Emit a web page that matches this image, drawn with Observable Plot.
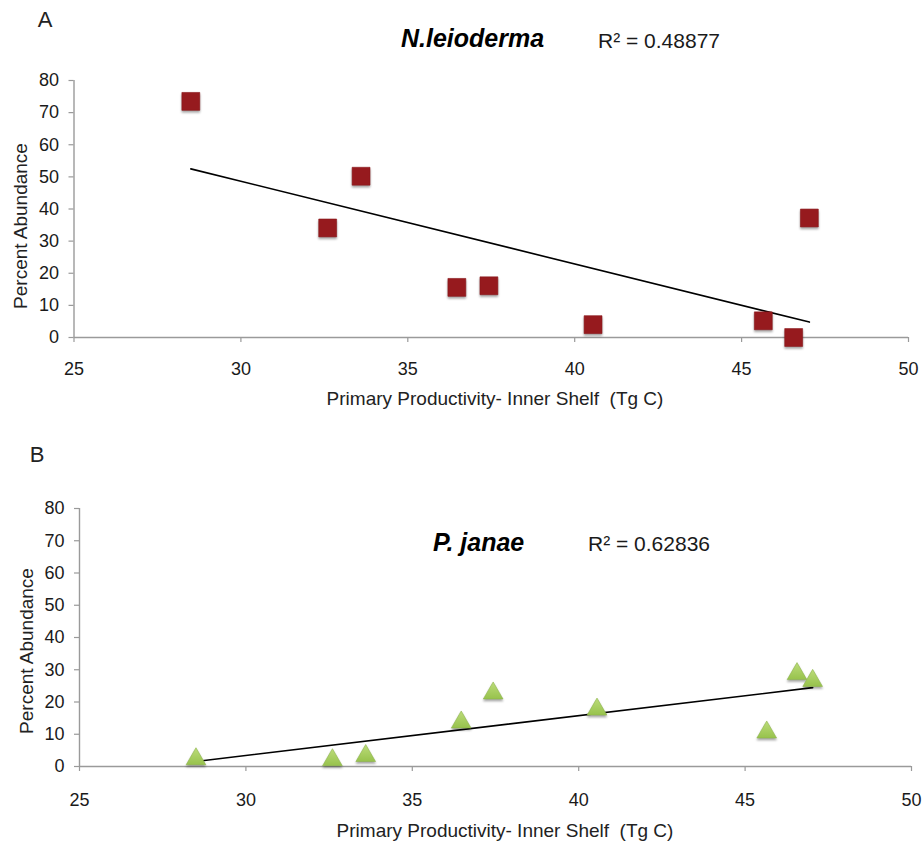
<!DOCTYPE html>
<html>
<head>
<meta charset="utf-8">
<script src="https://cdn.jsdelivr.net/npm/d3@7"></script>
<script src="https://cdn.jsdelivr.net/npm/@observablehq/plot@0.6"></script>
<style>
  html, body { margin: 0; padding: 0; background: #fff; }
  #page { position: relative; width: 924px; height: 844px; font-family: "Liberation Sans", Arial, sans-serif; color: #1a1a1a; }
  .panel { position: absolute; left: 0; }
  .lbl { position: absolute; white-space: pre; line-height: 1; }
  .left { transform: translateY(-50%); }
  .center { transform: translate(-50%, -50%); }
  .rot { transform: translate(-50%, -50%) rotate(-90deg); }
  .species { font-weight: bold; font-style: italic; font-size: 25px; color: #000; }
  .r2 { font-size: 21px; }
  .tag { font-size: 22px; color: #222; }
  .axlabel { font-size: 19px; color: #222; }
  g[aria-label="dot"] path { filter: drop-shadow(0px 2px 1.2px rgba(0,0,0,0.35)); }
</style>
</head>
<body>
<div id="page"></div>
<script>
// Primary productivity of the inner shelf (Tg C) for each sample
const productivity = [28.5, 32.6, 33.6, 36.47, 37.43, 40.55, 45.65, 46.56, 47.03];
// Percent abundance of each species at the same samples
const leioderma = [73.5, 34.1, 50.2, 15.6, 16.1, 4.0, 5.2, 0, 37.2];
const janae = [2.3, 2.0, 3.3, 13.7, 22.7, 17.7, 10.6, 28.7, 26.6];
// Reported coefficients of determination for the linear fits
const r2Labels = ["R² = 0.48877", "R² = 0.62836"];
const speciesNames = ["N.leioderma", "P. janae"];
const panelTags = ["A", "B"];

const xTicks = [25, 30, 35, 40, 45, 50];
const yTicks = [0, 10, 20, 30, 40, 50, 60, 70, 80];
const xLabel = "Primary Productivity- Inner Shelf  (Tg C)";
const yLabel = "Percent Abundance";

const page = document.getElementById("page");

function rows(ys) {
  return productivity.map((x, i) => ({x, y: ys[i]}));
}

function panel({data, top, height, margins, symbol, r, fill, stroke, tickPad}) {
  const svg = Plot.plot({
    width: 924,
    height,
    marginTop: margins[0], marginRight: margins[1], marginBottom: margins[2], marginLeft: margins[3],
    x: {domain: [25, 50]},
    y: {domain: [0, 80]},
    style: {fontFamily: "'Liberation Sans', Arial, sans-serif", fontSize: "18px", color: "#1a1a1a", background: "white", overflow: "visible"},
    marks: [
      Plot.axisX({ticks: xTicks, tickSize: 5, tickPadding: tickPad, label: null, stroke: "#9a9a9a", fill: "#1a1a1a", strokeWidth: 1.2}),
      Plot.axisY({ticks: yTicks, tickSize: 5, tickPadding: 10, label: null, stroke: "#9a9a9a", fill: "#1a1a1a", strokeWidth: 1.2}),
      Plot.ruleY([0], {stroke: "#9a9a9a", strokeWidth: 1.4}),
      Plot.ruleX([25], {stroke: "#9a9a9a", strokeWidth: 1.4}),
      Plot.linearRegressionY(data, {x: "x", y: "y", stroke: "#000", strokeWidth: 1.6, ci: 0}),
      Plot.dot(data, {x: "x", y: "y", symbol, r, fill, stroke, strokeWidth: 0.6})
    ]
  });
  // gradient used by the triangle markers
  const defs = d3.select(svg).insert("defs", ":first-child");
  const g = defs.append("linearGradient").attr("id", "triGrad").attr("x1", 0).attr("y1", 0).attr("x2", 0).attr("y2", 1);
  g.append("stop").attr("offset", "0%").attr("stop-color", "#bcdc7a");
  g.append("stop").attr("offset", "100%").attr("stop-color", "#97c24c");
  svg.classList.add("panel");
  svg.style.top = top + "px";
  page.appendChild(svg);
}

panel({data: rows(leioderma), top: 0, height: 420, margins: [80, 16, 83, 73.5],
       symbol: "square", r: 10.1, fill: "#961a1e", stroke: "#8a171b", tickPad: 20});
panel({data: rows(janae), top: 420, height: 424, margins: [88, 13, 78, 79],
       symbol: "triangle", r: 7.3, fill: "url(#triGrad)", stroke: "#8db64a", tickPad: 22});

function label(text, cls, x, y) {
  const d = document.createElement("div");
  d.className = "lbl " + cls;
  d.textContent = text;
  d.style.left = x + "px";
  d.style.top = y + "px";
  page.appendChild(d);
}

// Panel A annotations
label(panelTags[0], "tag center", 45, 20);
label(speciesNames[0], "species left", 401, 38);
label(r2Labels[0], "r2 left", 598, 40);
label(yLabel, "axlabel rot", 20, 226);
label(xLabel, "axlabel center", 495, 398);

// Panel B annotations
label(panelTags[1], "tag center", 37, 455);
label(speciesNames[1], "species left", 433, 542);
label(r2Labels[1], "r2 left", 588, 543);
label(yLabel, "axlabel rot", 26, 651);
label(xLabel, "axlabel center", 505, 830);
</script>
</body>
</html>
